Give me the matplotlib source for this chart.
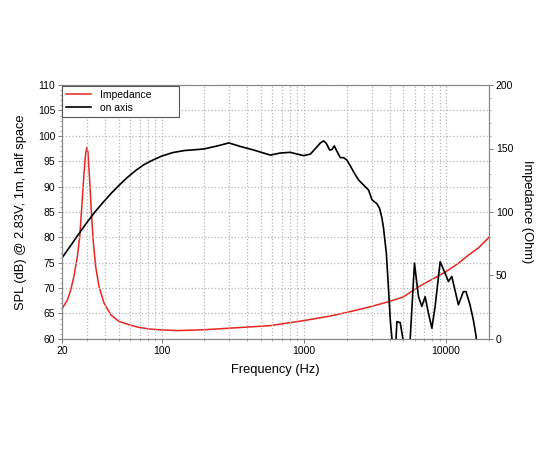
import numpy as np
import matplotlib.pyplot as plt
from matplotlib.ticker import LogLocator, MultipleLocator, NullFormatter, FixedLocator, FixedFormatter

plt.rcParams['font.family'] = ['Liberation Sans', 'DejaVu Sans']

# impedance curve (Ohm, right axis)
imp_freq = [20, 20.1, 21.8, 23.0, 24.2, 25.6, 26.6, 27.5, 28.5, 29.3, 29.8, 30.4,
            31.2, 32.1, 33.0, 34.4, 36.3, 39.4, 43.9, 50.2, 58.9, 69.3, 82, 95,
            130, 200, 300, 580, 1000, 1500, 2000, 2500, 3000, 4000, 5000, 6200,
            7000, 8000, 10000, 12000, 14000, 17000, 20000]
imp_ohm = [23.6, 24.2, 30.8, 38.7, 49.2, 65, 80.8, 104.5, 130.9, 146.7, 150.6, 146.7,
           125.6, 99.3, 78.2, 57.1, 41.3, 28.2, 19, 13.7, 11.2, 9.0, 7.8, 7.2,
           6.5, 7.2, 8.4, 10.4, 14.4, 17.8, 20.8, 23.4, 25.6, 29.5, 33, 40,
           43.5, 47, 53, 59, 65, 72, 80]

# on-axis SPL (dB, left axis)
spl_freq = [20, 23, 25.6, 30, 34, 38, 44, 50, 58, 66, 75, 85, 100, 120, 145, 198,
            246, 297, 358, 444, 582, 680, 803, 896, 997, 1112, 1206, 1307, 1378,
            1439, 1518, 1578, 1637, 1711, 1804, 1903, 2010, 2120, 2235, 2424,
            2630, 2851, 3011, 3265, 3407, 3538, 3631, 3800, 3940, 4050, 4160,
            4300, 4508, 4757, 4970, 5250, 5590, 5990, 6395, 6750, 7125, 7515,
            7940, 8370, 9080, 9840, 10380, 10960, 12200, 13220, 13800, 14720,
            15540, 16250, 17000]
spl_db = [76.0, 78.4, 80.3, 83.0, 85.0, 86.6, 88.6, 90.2, 91.9, 93.2, 94.3, 95.1, 96.0,
          96.7, 97.1, 97.4, 98.0, 98.6, 97.9, 97.2, 96.2, 96.6, 96.75, 96.4, 96.1,
          96.4, 97.5, 98.6, 99.0, 98.5, 97.2, 97.3, 98.0, 96.9, 95.7, 95.7, 95.2,
          94.1, 92.9, 91.3, 90.3, 89.3, 87.4, 86.6, 85.7, 83.8, 81.8, 76.9, 69.6,
          63.7, 60.1, 52, 63.4, 63.2, 60.0, 52, 60.0, 74.9, 68.3, 66.4, 68.3,
          65.0, 62.1, 66.4, 75.2, 72.9, 71.3, 72.3, 66.7, 69.3, 69.3, 66.7, 63.7,
          60.5, 52]

fig = plt.figure(figsize=(5.5, 4.5), dpi=100)
ax = fig.add_axes([0.113, 0.247, 0.776, 0.564])
ax2 = ax.twinx()

grid_kw = dict(color='#b8b8b8', linestyle=':', linewidth=0.9)

ax.set_xscale('log')
ax.set_xlim(20, 20000)
ax.set_ylim(60, 110)
ax.xaxis.set_major_locator(FixedLocator([20, 100, 1000, 10000]))
ax.xaxis.set_major_formatter(FixedFormatter(['20', '100', '1000', '10000']))
ax.xaxis.set_minor_locator(LogLocator(base=10, subs=np.arange(2, 10)))
ax.xaxis.set_minor_formatter(NullFormatter())
ax.yaxis.set_major_locator(MultipleLocator(5))
ax.yaxis.set_minor_locator(MultipleLocator(1))
ax.grid(True, which='major', axis='both', **grid_kw)
ax.grid(True, which='minor', axis='x', **grid_kw)
ax.set_axisbelow(True)

ax2.set_ylim(0, 200)
ax2.yaxis.set_major_locator(MultipleLocator(50))
ax2.yaxis.set_minor_locator(MultipleLocator(10))

l1, = ax2.plot(imp_freq, imp_ohm, color='#e8251f', linewidth=1.1, label='Impedance')
l2, = ax.plot(spl_freq, spl_db, color='black', linewidth=1.2, label='on axis')
ax.set_zorder(ax2.get_zorder() + 1)
ax.patch.set_visible(False)

for a in (ax, ax2):
    for s in a.spines.values():
        s.set_color('#888888')
        s.set_linewidth(0.8)
    a.tick_params(which='major', labelsize=7.5, length=3, width=0.6, color='#666666', pad=2)
    a.tick_params(which='minor', length=1.5, width=0.5, color='#888888')

ax.set_xlabel('Frequency (Hz)', fontsize=9.3, labelpad=6)
ax.set_ylabel('SPL (dB) @ 2.83V, 1m, half space', fontsize=9.3, labelpad=8)
ax2.set_ylabel('Impedance (Ohm)', fontsize=9.3, rotation=270, labelpad=14)

leg = ax.legend([l1, l2], ['Impedance', 'on axis'], loc='upper left', fontsize=7.5,
                bbox_to_anchor=(0.0, 0.0, 0.274, 0.995), mode='expand',
                fancybox=False, framealpha=1, edgecolor='#555555',
                borderaxespad=0.0, handlelength=2.4, handletextpad=0.9,
                borderpad=0.35, labelspacing=0.3)
leg.get_frame().set_linewidth(0.8)

fig.savefig('out.png', dpi=100)
